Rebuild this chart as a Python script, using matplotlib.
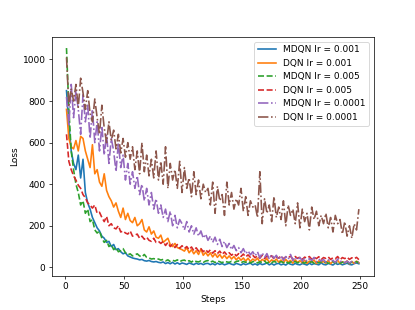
import matplotlib
matplotlib.use("Agg")
import matplotlib.pyplot as plt
import numpy as np

# loss values, every 2nd step
steps = list(range(1, 251, 2))

mdqn_001 = [850, 690, 560, 500, 470, 540, 430, 520, 360, 310,
            280, 240, 215, 190, 175, 150, 140, 120, 125, 100,
            110, 85, 90, 75, 65, 70, 55, 50, 45, 42,
            40, 36, 38, 32, 30, 33, 28, 26, 28, 24,
            22, 26, 18, 23, 17, 24, 16, 22, 15, 21,
            18, 14, 21, 17, 13, 20, 15, 19, 13, 18,
            19, 13, 18, 12, 20, 14, 18, 12, 16, 20,
            15, 12, 19, 15, 11, 18, 13, 17, 20, 12,
            17, 11, 19, 13, 16, 21, 12, 18, 11, 17,
            19, 12, 16, 11, 20, 15, 12, 19, 14, 12,
            18, 15, 11, 20, 13, 18, 15, 12, 21, 14,
            12, 19, 15, 11, 20, 14, 18, 12, 16, 20,
            14, 12, 18, 21, 17]

dqn_001 = [760, 620, 580, 570, 610, 560, 630, 620, 560, 520,
           480, 590, 450, 470, 410, 390, 450, 370, 340, 320,
           290, 310, 270, 240, 285, 230, 260, 225, 215, 240,
           200, 210, 230, 180, 170, 195, 160, 175, 145, 140,
           155, 120, 130, 140, 110, 100, 115, 95, 90, 85,
           78, 95, 70, 85, 65, 80, 62, 88, 58, 72,
           55, 70, 50, 66, 48, 62, 44, 58, 42, 55,
           40, 52, 36, 48, 34, 45, 30, 44, 28, 40,
           32, 44, 26, 38, 30, 42, 24, 36, 28, 40,
           25, 35, 22, 38, 26, 33, 20, 36, 24, 32,
           22, 34, 19, 30, 25, 35, 18, 31, 23, 28,
           20, 33, 17, 29, 24, 34, 18, 27, 21, 31,
           17, 28, 19, 30, 22]

mdqn_005 = [1055, 760, 560, 470, 400, 360, 300, 320, 260, 280,
            220, 230, 180, 165, 175, 140, 120, 130, 100, 110,
            85, 95, 75, 80, 90, 70, 60, 65, 55, 60,
            65, 55, 50, 62, 48, 45, 40, 42, 38, 40,
            35, 38, 31, 36, 28, 34, 30, 36, 27, 33,
            35, 27, 32, 25, 34, 28, 26, 31, 24, 30,
            33, 25, 30, 23, 31, 27, 22, 30, 26, 24,
            29, 22, 28, 31, 22, 28, 24, 30, 21, 27,
            29, 21, 27, 23, 30, 20, 27, 22, 29, 24,
            21, 28, 22, 29, 20, 26, 23, 28, 21, 27,
            25, 20, 27, 22, 28, 19, 26, 21, 27, 20,
            26, 19, 24, 28, 20, 26, 19, 25, 21, 27,
            19, 25, 21, 27, 22]

dqn_005 = [640, 510, 470, 440, 420, 395, 380, 350, 335, 310,
           300, 285, 300, 260, 265, 240, 220, 245, 200, 210,
           190, 185, 200, 170, 175, 165, 160, 175, 150, 155,
           160, 140, 150, 135, 145, 130, 125, 140, 120, 125,
           115, 125, 105, 120, 100, 112, 95, 110, 92, 104,
           90, 100, 85, 98, 80, 94, 78, 90, 75, 86,
           72, 84, 68, 80, 66, 78, 62, 74, 60, 70,
           58, 68, 55, 66, 52, 64, 50, 60, 48, 58,
           46, 56, 44, 58, 42, 54, 45, 56, 40, 52,
           44, 55, 41, 50, 46, 54, 40, 52, 43, 50,
           38, 49, 44, 52, 39, 48, 42, 51, 37, 47,
           43, 50, 38, 46, 41, 52, 36, 47, 42, 49,
           38, 46, 41, 48, 37]

mdqn_0001 = [820, 680, 880, 720, 850, 760, 640, 830, 700, 780,
             620, 760, 600, 700, 560, 680, 540, 640, 500, 620,
             560, 460, 600, 480, 540, 420, 500, 400, 460, 380,
             440, 350, 400, 320, 380, 300, 360, 280, 330, 260,
             300, 240, 280, 220, 270, 200, 250, 190, 230, 210,
             180, 220, 170, 200, 160, 190, 150, 175, 140, 160,
             130, 150, 120, 145, 110, 135, 100, 125, 95, 115,
             85, 105, 80, 95, 70, 90, 65, 80, 60, 75,
             55, 75, 45, 70, 48, 66, 40, 62, 44, 58,
             36, 56, 34, 52, 38, 62, 32, 50, 35, 48,
             30, 45, 28, 42, 33, 48, 26, 40, 30, 38,
             24, 36, 28, 34, 22, 40, 27, 32, 22, 30,
             21, 28, 20, 26, 24]

dqn_0001 = [1010, 780, 860, 800, 880, 770, 910, 840, 760, 850,
            740, 700, 810, 720, 640, 780, 670, 600, 700, 610,
            660, 570, 640, 550, 620, 530, 600, 520, 580, 470,
            560, 450, 600, 460, 540, 440, 520, 430, 560, 420,
            510, 400, 580, 380, 500, 420, 470, 380, 510, 360,
            480, 380, 430, 340, 460, 350, 420, 330, 400, 360,
            380, 300, 410, 260, 390, 320, 350, 250, 410, 300,
            360, 280, 330, 300, 380, 270, 340, 250, 320, 290,
            300, 240, 460, 210, 330, 260, 300, 220, 340, 240,
            290, 230, 320, 200, 300, 250, 280, 210, 310, 190,
            280, 220, 260, 180, 290, 230, 270, 200, 250, 210,
            260, 190, 240, 170, 250, 210, 230, 160, 220, 150,
            200, 140, 210, 180, 280]

fig = plt.figure(figsize=(415 / 65, 310 / 65), dpi=65)
ax = fig.add_subplot(111)

lw = 1.8
ax.plot(steps, mdqn_001, color="C0", lw=lw, label="MDQN lr = 0.001")
ax.plot(steps, dqn_001, color="C1", lw=lw, label="DQN lr = 0.001")
ax.plot(steps, mdqn_005, "--", color="C2", lw=lw, label="MDQN lr = 0.005")
ax.plot(steps, dqn_005, "--", color="C3", lw=lw, label="DQN lr = 0.005")
ax.plot(steps, mdqn_0001, "-.", color="C4", lw=lw, label="MDQN lr = 0.0001")
ax.plot(steps, dqn_0001, "-.", color="C5", lw=lw, label="DQN lr = 0.0001")

ax.set_xlabel("Steps")
ax.set_ylabel("Loss")
ax.legend(loc="upper right")

fig.savefig("out.png", dpi=65)
